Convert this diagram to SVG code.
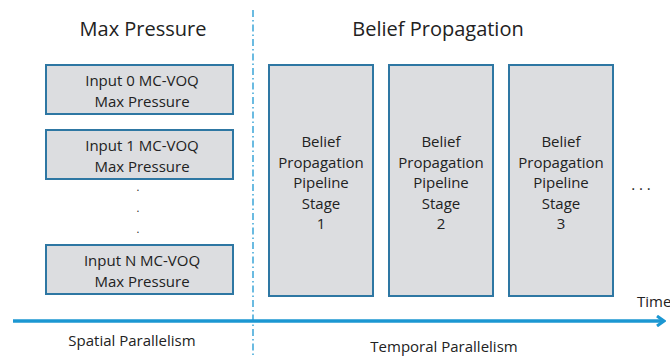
<svg xmlns="http://www.w3.org/2000/svg" width="670" height="357" viewBox="0 0 670 357">
<style>
.box{fill:#dcdde0;stroke:#2e77a3;stroke-width:2}
.t{font-family:"Open Sans","Liberation Sans",sans-serif;fill:#222;text-anchor:middle}
.s{font-size:15px}
.d{font-size:11px}
.h{font-size:20px}
</style>
<defs>
<marker id="ah" markerWidth="10" markerHeight="12" refX="7" refY="6" orient="auto" markerUnits="userSpaceOnUse">
<path d="M1,1 L8,6 L1,11" fill="none" stroke="#1c97d2" stroke-width="3"/>
</marker>
</defs>
<rect width="670" height="357" fill="#fff"/>
<text class="t h" x="143" y="36">Max Pressure</text>
<text class="t h" x="438" y="36">Belief Propagation</text>
<g id="connectors">
<line x1="253" y1="10" x2="253" y2="357" stroke="#1c97d2" stroke-width="1.3" stroke-dasharray="7,3,1.5,3"/>
<line x1="13" y1="321" x2="663" y2="321" stroke="#1c97d2" stroke-width="3.5" marker-end="url(#ah)"/>
</g>
<g id="in0"><rect class="box" x="46" y="65" width="187" height="49"/>
<text class="t s" x="142" y="86">Input 0 MC-VOQ</text><text class="t s" x="142" y="107">Max Pressure</text></g>
<g id="in1"><rect class="box" x="46" y="130" width="187" height="49"/>
<text class="t s" x="142" y="151">Input 1 MC-VOQ</text><text class="t s" x="142" y="172">Max Pressure</text></g>
<g id="dots"><text class="t d" x="138" y="191">.</text><text class="t d" x="138" y="212">.</text><text class="t d" x="138" y="233">.</text></g>
<g id="inN"><rect class="box" x="46" y="245" width="187" height="49"/>
<text class="t s" x="142" y="266">Input N MC-VOQ</text><text class="t s" x="142" y="287">Max Pressure</text></g>
<g id="st1"><rect class="box" x="269" y="65" width="104" height="231"/>
<text class="t s"><tspan x="321" y="147">Belief</tspan><tspan x="321" y="167.5">Propagation</tspan><tspan x="321" y="188">Pipeline</tspan><tspan x="321" y="208.5">Stage</tspan><tspan x="321" y="229">1</tspan></text></g>
<g id="st2"><rect class="box" x="389" y="65" width="104" height="231"/>
<text class="t s"><tspan x="441" y="147">Belief</tspan><tspan x="441" y="167.5">Propagation</tspan><tspan x="441" y="188">Pipeline</tspan><tspan x="441" y="208.5">Stage</tspan><tspan x="441" y="229">2</tspan></text></g>
<g id="st3"><rect class="box" x="509" y="65" width="104" height="231"/>
<text class="t s"><tspan x="561" y="147">Belief</tspan><tspan x="561" y="167.5">Propagation</tspan><tspan x="561" y="188">Pipeline</tspan><tspan x="561" y="208.5">Stage</tspan><tspan x="561" y="229">3</tspan></text></g>
<text class="t s" x="641" y="190">. . .</text>
<text class="t s" x="637" y="307" style="text-anchor:start">Time</text>
<text class="t s" x="132" y="346">Spatial Parallelism</text>
<text class="t s" x="444" y="352">Temporal Parallelism</text>
</svg>
